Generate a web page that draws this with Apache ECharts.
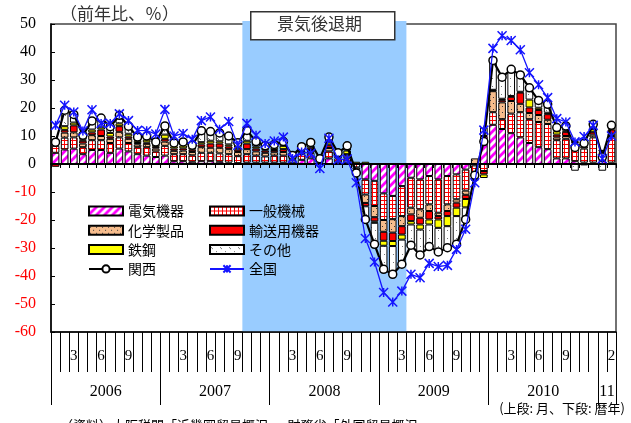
<!DOCTYPE html>
<html>
<head>
<meta charset="utf-8">
<script src="https://cdn.jsdelivr.net/npm/echarts@6/dist/echarts.min.js"></script>
<style>
html, body { margin: 0; padding: 0; background: #fff; }
#chart { width: 631px; height: 423px; }
</style>
</head>
<body>
<div id="chart"></div>
<script>
// 近畿圏の輸出（前年比、％）と品目別寄与度
const yearNums = [2006, 2007, 2008, 2009, 2010, 2011];
const yearMonthCounts = [12, 12, 12, 12, 12, 2];
const yearLabels = ['2006', '2007', '2008', '2009', '2010', '11'];
const monthTickLabels = ['3', '6', '9'];
const lastMonthLabel = '2';
const recessionSpan = ['2007/10', '2009/3'];

// 関西（輸出全体、前年比）
const kansai = [
  7.8, 19.2, 17.7, 10.3, 15.4, 16.4, 13.3, 17.4, 13.5, 9.6, 10, 7.9,
  13.6, 7.5, 7.9, 6.7, 11.9, 11.6, 11.1, 10, 7.6, 12, 8, 6.5,
  7, 8, 3, 6.2, 7.7, 1.9, 9.6, 4, 6.5, -3.2, -19.8, -28.7,
  -37.6, -39.4, -35.8, -29, -32.5, -29.5, -31.4, -29.9, -28.7, -19.8, -4, 8,
  37, 31, 33.8, 31.8, 27.2, 22.7, 21.3, 13, 13.6, 5.9, 7.4, 14.2,
  2.5, 13.8
];
// 全国
const zenkoku = [
  13.8, 21, 18.6, 11.8, 19.4, 14.5, 14.5, 17.9, 15.5, 12, 11.9, 10.7,
  19.5, 10, 10.9, 8.8, 15.5, 16.8, 12.4, 15.2, 6.7, 14.5, 10.3, 7.3,
  8.2, 9.6, 2, 4.3, 3.8, -1.6, 9.2, 1.5, 1.8, -6.7, -26.6, -35,
  -45.9, -49.3, -45.4, -39.4, -40.6, -35.5, -36.6, -36.2, -30.5, -23.3, -6.7, 12.1,
  41.3, 45.8, 44.1, 40.8, 32.6, 28.3, 23.7, 16.2, 15, 7.9, 9.8, 13.8,
  1.9, 10
];
// 品目別寄与度
const denki = [
  4, 5.2, 5.5, 3.5, 5, 5, 4, 5.5, 4.5, 3.5, 3, 2.5,
  3, 1, 1, 0.8, 1, 1, 0.8, 0.5, 0.3, 0.5, 0.5, 0.5,
  0.5, 0.5, 0.5, 1.5, 2, 0.5, 2, 0.5, 0.5, 0, -5.5, -6,
  -10.5, -11.4, -7.9, -4.9, -5.5, -4.3, -5.5, -4.3, -3.7, -2, -0.5, 10,
  14, 12.5, 11, 9.5, 7.5, 6, 5.3, 2, 2, 1, 0.5, 0.5,
  1, 0.5
];
const ippan = [
  2.5, 4.2, 4, 2.5, 3.5, 3.5, 3.5, 4, 3, 2.5, 3, 2,
  3.5, 2.5, 2.5, 2.3, 3, 3, 3, 3, 2.5, 3, 2.5, 2.2,
  2.5, 2.5, 1.2, 2, 2, 0.6, 2.5, 1.5, 1.5, -1.2, -5.4, -9,
  -9.5, -8.3, -10.7, -10.7, -10.7, -10.1, -11.9, -10.1, -8.9, -7.5, -3, -2.5,
  4.5, 3.5, 7, 9, 8.5, 9, 9, 6.5, 7, 5.5, 5, 9,
  3, 9.5
];
const kagaku = [
  0.5, 1.8, 1.8, 1.3, 1.8, 1.5, 1.5, 2, 1.5, 1, 1.2, 1,
  1.5, 1.2, 1.3, 1.2, 2, 1.8, 2, 1.8, 1.5, 1.8, 1.5, 1.3,
  1.2, 1.3, 0.5, 0.8, 1, 0.3, 1.2, 0.7, 1, -0.8, -3, -4,
  -4.2, -4.8, -3.6, -2.4, -3, -2.4, -1.2, -2.4, -1.2, -1.5, 2, 0,
  7.5, 6, 4.5, 3, 2.2, 2.5, 1.5, 1, 1, 0.8, 0.7, 1,
  0.5, 0.8
];
const yuso = [
  -1, 1, 2.5, 1, 1, 2.3, 0.8, 2, 0.8, 0.5, 0.5, 0.6,
  1, 0.8, 0.8, 0.8, 1, 1.5, 1.5, 1, 0.8, 2, 1, 0.8,
  0.8, 1, 0.3, 0.5, 0.8, 0.2, 1, 0.3, 0.5, -1.2, -1.2, -1.5,
  -3.2, -3, -3, -2.4, -2.4, -3, -1.2, -1.8, -1.8, -1.5, -1, -1.2,
  0.3, 0.8, 1.5, 4, 2, 1.8, 2, 1, 1.5, 0.6, 1, 1,
  0.3, 1.5
];
const tekko = [
  0.8, 1.3, 1, 0.5, 1, 0.8, 1.3, 1, 1, 0.8, 1, 0.8,
  1.5, 0.8, 1, 0.8, 0.8, 1, 0.8, 0.7, 0.7, 1, 0.7, 0.5,
  0.8, 1.2, 0.3, 0.6, 0.8, 0.2, 1, 0.5, 1.3, 0.8, 0.8, -0.5,
  -1.8, -1.8, -1.8, -1.2, -1.8, -1.8, -3, -3.6, -3, -3, -1, -1.3,
  0.2, 0.5, 0.3, 0.3, 2.8, 0.8, 0.5, 1.2, 0.5, 0.4, 0.7, 1,
  0.1, 0.5
];
const sonota = [
  1.0, 5.7, 2.9, 1.5, 3.1, 3.3, 2.2, 2.9, 2.7, 1.3, 1.3, 1.0,
  3.1, 1.2, 1.3, 0.8, 4.1, 3.3, 3.0, 3.0, 1.8, 3.7, 1.8, 1.2,
  1.2, 1.5, 0.2, 0.8, 1.1, 0.1, 1.9, 0.5, 1.7, -0.8, -5.5, -7.7,
  -8.4, -10.1, -8.8, -7.4, -9.1, -7.9, -8.6, -7.7, -10.1, -4.3, -0.5, 3.0,
  10.5, 7.7, 9.5, 6.0, 4.2, 2.6, 3.0, 1.3, 1.6, -2.4, -0.5, 1.7,
  -2.4, 1.0
];

// 月次カテゴリ（例: 2006/1）
const categories = [];
const yearStartIdx = [];
const yearLabelIdx = [];
yearNums.forEach((y, k) => {
  yearStartIdx.push(categories.length);
  yearLabelIdx.push(categories.length + Math.floor(yearMonthCounts[k] / 2));
  for (let m = 1; m <= yearMonthCounts[k]; m++) categories.push(y + '/' + m);
});
const lastIdx = categories.length - 1;

// 塗りパターン
function tile(w, h, paint) {
  const c = document.createElement('canvas');
  c.width = w; c.height = h;
  const g = c.getContext('2d');
  paint(g, w, h);
  return { image: c, repeat: 'repeat' };
}
const fillDenki = tile(8, 8, (g, n) => {
  g.fillStyle = '#fff'; g.fillRect(0, 0, n, n);
  g.strokeStyle = '#ff00ff'; g.lineWidth = 2.8;
  g.beginPath();
  g.moveTo(0, n); g.lineTo(n, 0);
  g.moveTo(-2, 2); g.lineTo(2, -2);
  g.moveTo(n - 2, n + 2); g.lineTo(n + 2, n - 2);
  g.stroke();
});
const fillIppan = tile(4, 4, (g) => {
  g.fillStyle = '#fff'; g.fillRect(0, 0, 4, 4);
  g.fillStyle = '#ff0000';
  g.fillRect(0, 0, 1, 4);
  g.fillRect(0, 0, 4, 1);
});
const fillKagaku = tile(6, 6, (g) => {
  g.fillStyle = '#f7bd8d'; g.fillRect(0, 0, 6, 6);
  g.fillStyle = '#3a3a3a';
  g.fillRect(1, 1, 1, 1);
  g.fillRect(4, 4, 1, 1);
});
const fillSonota = tile(9, 8, (g) => {
  g.fillStyle = '#fff'; g.fillRect(0, 0, 9, 8);
  g.fillStyle = '#777';
  g.fillRect(1, 2, 1, 1);
  g.fillRect(2, 3, 1, 1);
  g.fillRect(6, 6, 1, 1);
});

function barSeries(name, data, color) {
  return {
    name, type: 'bar', stack: 'contrib', data,
    barCategoryGap: '16%',
    itemStyle: { color, borderColor: '#000', borderWidth: 1 },
    emphasis: { disabled: true },
    z: 2
  };
}

const chart = echarts.init(document.getElementById('chart'), null, { renderer: 'canvas' });
const jp = '"Noto Sans CJK JP", "Noto Sans", sans-serif';
const serif = '"Liberation Serif", "DejaVu Serif", serif';

const recStart = categories.indexOf(recessionSpan[0]);
const recEnd = categories.indexOf(recessionSpan[1]);

const legendText = { fontFamily: jp, fontSize: 14, color: '#000', lineHeight: 14 };

chart.setOption({
  animation: false,
  grid: {
    left: 51, right: 15, top: 24, bottom: 91,
    show: true, borderColor: '#444', borderWidth: 1.5, backgroundColor: 'transparent', z: 0
  },
  legend: [
    {
      left: 83, top: 199, orient: 'vertical', itemWidth: 34, itemHeight: 9, itemGap: 5.3,
      selectedMode: false, textStyle: legendText,
      data: [
        { name: '電気機器', icon: 'rect' },
        { name: '化学製品', icon: 'rect' },
        { name: '鉄鋼', icon: 'rect' },
        { name: '関西' }
      ]
    },
    {
      left: 204, top: 199, orient: 'vertical', itemWidth: 34, itemHeight: 9, itemGap: 5.3,
      selectedMode: false, textStyle: legendText,
      data: [
        { name: '一般機械', icon: 'rect' },
        { name: '輸送用機器', icon: 'rect' },
        { name: 'その他', icon: 'rect' },
        { name: '全国' }
      ]
    }
  ],
  xAxis: [
    {
      type: 'category', data: categories, z: 3,
      axisLine: { onZero: true, lineStyle: { color: '#000', width: 2 } },
      axisTick: { show: true, interval: 0, length: 4, lineStyle: { color: '#000', width: 1 } },
      axisLabel: { show: false }
    },
    {
      type: 'category', data: categories, position: 'bottom', z: 3,
      axisLine: { onZero: false, lineStyle: { color: '#000', width: 1.5 } },
      axisTick: { show: true, interval: 0, length: 40, lineStyle: { color: '#000', width: 1 } },
      axisLabel: {
        interval: 0, margin: 17, fontFamily: serif, fontSize: 15, color: '#000',
        formatter: (v, i) => {
          if (i === lastIdx) return lastMonthLabel;
          const m = String(v).split('/')[1];
          return monthTickLabels.includes(m) ? m : '';
        }
      }
    },
    {
      type: 'category', data: categories, position: 'bottom', z: 3,
      axisLine: { show: false, onZero: false },
      axisTick: { show: true, interval: (i) => yearStartIdx.includes(i), length: 73, lineStyle: { color: '#000', width: 1 } },
      axisLabel: {
        interval: (i) => yearLabelIdx.includes(i), margin: 52, padding: [0, 9, 0, 0],
        fontFamily: serif, fontSize: 16, color: '#000',
        formatter: (v, i) => {
          const k = yearLabelIdx.indexOf(i);
          return k >= 0 ? yearLabels[k] : '';
        }
      }
    }
  ],
  yAxis: {
    type: 'value', min: -60, max: 50, interval: 10, z: 3,
    axisLine: { show: true, lineStyle: { color: '#000', width: 1.5 } },
    axisTick: { show: true, inside: true, length: 4, lineStyle: { color: '#000' } },
    splitLine: { show: false },
    axisLabel: {
      margin: 15, fontFamily: serif, fontSize: 16,
      color: (v) => (Number(v) < 0 ? '#ff0000' : '#000')
    }
  },
  series: [
    {
      name: '景気後退期', type: 'custom', z: 1, silent: true,
      data: [[recStart, recEnd]],
      encode: { x: [0, 1] },
      renderItem: (params, api) => {
        const s = api.coord([api.value(0), 0]);
        const e = api.coord([api.value(1), 0]);
        const band = api.size([1, 0])[0];
        const cs = params.coordSys;
        return {
          type: 'rect',
          shape: { x: s[0] - band / 2, y: cs.y - 3, width: e[0] - s[0] + band, height: cs.height + 3 },
          style: { fill: '#99ccff' }
        };
      }
    },
    barSeries('電気機器', denki, fillDenki),
    barSeries('一般機械', ippan, fillIppan),
    barSeries('化学製品', kagaku, fillKagaku),
    barSeries('輸送用機器', yuso, '#ff0000'),
    barSeries('鉄鋼', tekko, '#ffff00'),
    barSeries('その他', sonota, fillSonota),
    {
      name: '関西', type: 'line', data: kansai, z: 5,
      symbol: 'circle', symbolSize: 8, showAllSymbol: true,
      lineStyle: { color: '#000', width: 2.2 },
      itemStyle: { color: '#fff', borderColor: '#000', borderWidth: 1.5 },
      emphasis: { disabled: true }
    },
    {
      name: '全国', type: 'line', data: zenkoku, z: 6,
      symbol: 'path://M0,0L10,10M10,0L0,10M5,0L5,10', symbolSize: 9, showAllSymbol: true,
      lineStyle: { color: '#1515ff', width: 1.3 },
      itemStyle: { color: '#1515ff', borderColor: '#1515ff', borderWidth: 1.5 },
      emphasis: { disabled: true }
    }
  ],
  graphic: [
    {
      type: 'text', left: 60, top: 5, z: 100,
      style: { text: '（前年比、％）', font: '17px ' + jp, fill: '#333' }
    },
    {
      type: 'rect', left: 250, top: 11, z: 100,
      shape: { x: 0, y: 0, width: 144, height: 28 },
      style: { fill: '#fff', stroke: '#333', lineWidth: 1.5 }
    },
    {
      type: 'text', left: 277, top: 15, z: 101,
      style: { text: '景気後退期', font: '17px ' + jp, fill: '#333' }
    },
    {
      type: 'text', right: 6, top: 402, z: 100,
      style: { text: '(上段: 月、下段: 暦年)', font: '13px ' + jp, fill: '#000' }
    },
    {
      type: 'text', left: 60, top: 419, z: 100,
      style: { text: '（資料）大阪税関「近畿圏貿易概況」、財務省「外国貿易概況」', font: '13px ' + jp, fill: '#000' }
    }
  ]
});
</script>
</body>
</html>
